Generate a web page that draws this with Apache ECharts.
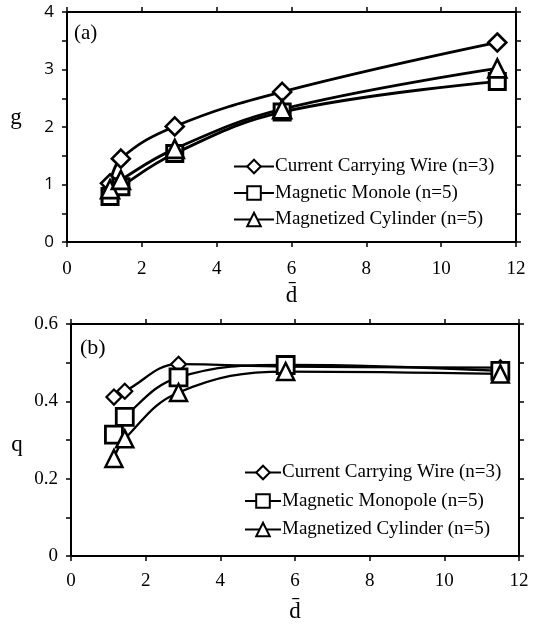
<!DOCTYPE html>
<html><head><meta charset="utf-8">
<script src="https://cdn.jsdelivr.net/npm/echarts@6/dist/echarts.min.js"></script>
<style>
html,body{margin:0;padding:0;background:#fff;}
#a{position:absolute;left:0;top:0;width:551px;height:314px;}
#b{position:absolute;left:0;top:314px;width:551px;height:314px;}
</style></head><body>
<div id="a"></div><div id="b"></div>
<script>
const dBar = [1.15, 1.44, 2.88, 5.75, 11.5];
// panel (a): g
const gWire = [1.02, 1.45, 2.01, 2.61, 3.47];
const gMonopole = [0.79, 0.96, 1.54, 2.26, 2.79];
const gCylinder = [0.92, 1.08, 1.62, 2.31, 3.02];
// panel (b): q
const qWire = [0.411, 0.426, 0.496, 0.490, 0.487];
const qMonopole = [0.314, 0.360, 0.462, 0.494, 0.479];
const qCylinder = [0.252, 0.303, 0.423, 0.477, 0.471];
const namesA = ['Current Carrying Wire (n=3)', 'Magnetic Monole (n=5)', 'Magnetized Cylinder (n=5)'];
const namesB = ['Current Carrying Wire (n=3)', 'Magnetic Monopole (n=5)', 'Magnetized Cylinder (n=5)'];
const xTicks = [0, 2, 4, 6, 8, 10, 12];

const SERIF = '"Liberation Serif","DejaVu Serif",serif';
const SANS = '"Open Sans","Noto Sans",sans-serif';
const pairs = (ys) => dBar.map((x, i) => [x, ys[i]]);

function mkSeries(name, ys, symbol, size, lw, bw) {
  return {
    type: 'line', name: name, data: pairs(ys), smooth: 0.4,
    symbol: symbol, symbolSize: size, showSymbol: true,
    lineStyle: {color: '#000', width: lw},
    itemStyle: {color: '#fff', borderColor: '#000', borderWidth: bw},
    emphasis: {disabled: true}, animation: false
  };
}

const AXLINE = {show: true, onZero: false, lineStyle: {color: '#000', width: 2}};
const AXTICK = {show: true, inside: false, length: 5, lineStyle: {color: '#000', width: 1.5}};

function axesX(gap, margin) {
  const base = {
    type: 'value', min: 0, max: 12, interval: 2,
    axisLine: AXLINE, axisTick: AXTICK, splitLine: {show: false}
  };
  return [
    Object.assign({}, base, {
      position: 'bottom',
      axisLabel: {show: true, color: '#000', fontFamily: SERIF, fontSize: 19, margin: margin,
        formatter: v => xTicks.includes(v) ? String(v) : ''},
      name: 'd\u0304', nameLocation: 'middle', nameGap: gap,
      nameTextStyle: {color: '#000', fontFamily: SERIF, fontSize: 23}
    }),
    Object.assign({}, base, {position: 'top', axisLabel: {show: false}})
  ];
}

// ---------- chart (a)
const ca = echarts.init(document.getElementById('a'), null, {renderer: 'canvas'});
const yBaseA = {
  type: 'value', min: 0, max: 4, interval: 0.5,
  axisLine: AXLINE, axisTick: AXTICK, splitLine: {show: false}
};
ca.setOption({
  animation: false,
  grid: {left: 67, right: 35, top: 12, height: 230, containLabel: false},
  xAxis: axesX(42, 18),
  yAxis: [
    Object.assign({}, yBaseA, {position: 'left',
      axisLabel: {color: '#000', fontFamily: SANS, fontSize: 17, margin: 13,
        formatter: v => (Math.abs(v - Math.round(v)) < 1e-6) ? String(Math.round(v)) : ''}}),
    Object.assign({}, yBaseA, {position: 'right', axisLabel: {show: false}})
  ],
  legend: {
    orient: 'vertical', left: 228, top: 152, itemGap: 7.5, itemWidth: 40, itemHeight: 17,
    textStyle: {color: '#000', fontFamily: SERIF, fontSize: 19, padding: [0, 0, 0, -4]},
    data: namesA, selectedMode: false
  },
  graphic: [
    {type: 'text', left: 74, top: 23, style: {text: '(a)', fill: '#000', font: '21px ' + SERIF}},
    {type: 'text', x: 16, y: 118, style: {text: 'g', fill: '#000', font: '23px ' + SERIF, align: 'center', verticalAlign: 'middle'}}
  ],
  series: [
    mkSeries(namesA[0], gWire, 'diamond', 18, 2.8, 2.6),
    mkSeries(namesA[1], gMonopole, 'rect', 16, 2.8, 3),
    mkSeries(namesA[2], gCylinder, 'triangle', 18, 2.8, 2.6)
  ]
});

// ---------- chart (b)
const cb = echarts.init(document.getElementById('b'), null, {renderer: 'canvas'});
const yBaseB = {
  type: 'value', min: 0, max: 0.6, interval: 0.1,
  axisLine: AXLINE, axisTick: AXTICK, splitLine: {show: false}
};
cb.setOption({
  animation: false,
  grid: {left: 71, right: 32, top: 10, height: 233, containLabel: false},
  xAxis: axesX(44, 16),
  yAxis: [
    Object.assign({}, yBaseB, {position: 'left',
      axisLabel: {color: '#000', fontFamily: SERIF, fontSize: 19, margin: 13,
        formatter: v => { const k = Math.round(v * 10); return (k % 2 === 0) ? (k === 0 ? '0' : (k / 10).toFixed(1)) : ''; }}}),
    Object.assign({}, yBaseB, {position: 'right', axisLabel: {show: false}})
  ],
  legend: {
    orient: 'vertical', left: 239, top: 144, itemGap: 9.5, itemWidth: 36, itemHeight: 17,
    textStyle: {color: '#000', fontFamily: SERIF, fontSize: 19, padding: [0, 0, 0, -4]},
    data: namesB, selectedMode: false
  },
  graphic: [
    {type: 'text', left: 80, top: 23, style: {text: '(b)', fill: '#000', font: '22px ' + SERIF}},
    {type: 'text', x: 17, y: 131, style: {text: 'q', fill: '#000', font: '23px ' + SERIF, align: 'center', verticalAlign: 'middle'}}
  ],
  series: [
    mkSeries(namesB[0], qWire, 'diamond', 15, 2.3, 2.2),
    mkSeries(namesB[1], qMonopole, 'rect', 17, 2.3, 2.8),
    mkSeries(namesB[2], qCylinder, 'triangle', 17, 2.3, 2.5)
  ]
});
</script></body></html>
